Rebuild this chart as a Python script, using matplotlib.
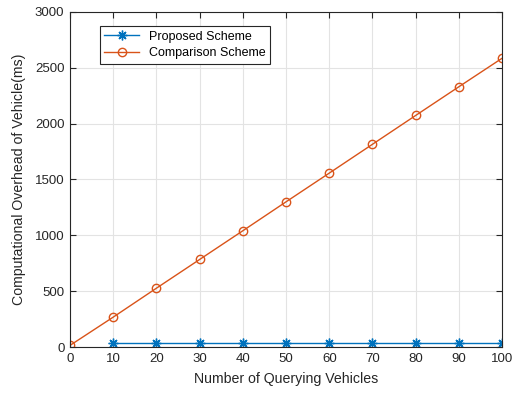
import numpy as np
import matplotlib.pyplot as plt

plt.rcParams['font.family'] = ['Liberation Sans', 'DejaVu Sans']

# number of querying vehicles
n_proposed = [10, 20, 30, 40, 50, 60, 70, 80, 90, 100]
n_comparison = [0, 10, 20, 30, 40, 50, 60, 70, 80, 90, 100]

# computational overhead (ms)
proposed = [35, 35, 35, 35, 35, 35, 35, 35, 35, 35]
comparison = [15, 268, 527, 784, 1041, 1300, 1557, 1815, 2073, 2330, 2585]

fig = plt.figure(figsize=(5.22, 3.94), dpi=100)
ax = fig.add_axes([0.134, 0.119, 0.828, 0.851])

ax.plot(n_proposed, proposed, color='#0072BD', marker=(8, 2, 0), markersize=7,
        markeredgewidth=1.0, linewidth=1.0, label='Proposed Scheme')
ax.plot(n_comparison, comparison, color='#D95319', marker='o', markersize=6,
        markerfacecolor='none', markeredgewidth=1.0, linewidth=1.0,
        label='Comparison Scheme')

ax.set_xlim(0, 100)
ax.set_ylim(0, 3000)
ax.set_xticks(np.arange(0, 101, 10))
ax.set_yticks(np.arange(0, 3001, 500))
ax.grid(True, color='#e3e3e3', linewidth=0.8)
ax.set_axisbelow(True)

for s in ax.spines.values():
    s.set_color('#262626')
    s.set_linewidth(0.8)
ax.tick_params(direction='in', length=4, width=0.8, colors='#262626',
               labelsize=9.5, top=True, right=True, pad=4)
ax.tick_params(labeltop=False, labelright=False)

ax.set_xlabel('Number of Querying Vehicles', fontsize=10.2, color='#262626', labelpad=5)
ax.set_ylabel('Computational Overhead of Vehicle(ms)', fontsize=10.2, color='#262626', labelpad=6)

leg = ax.legend(loc='upper left', bbox_to_anchor=(0.055, 0.975), fontsize=9,
                fancybox=False, framealpha=1, edgecolor='#262626',
                handlelength=2.8, borderpad=0.35, labelspacing=0.35)
leg.get_frame().set_linewidth(0.8)

fig.savefig('out.png', dpi=100)
